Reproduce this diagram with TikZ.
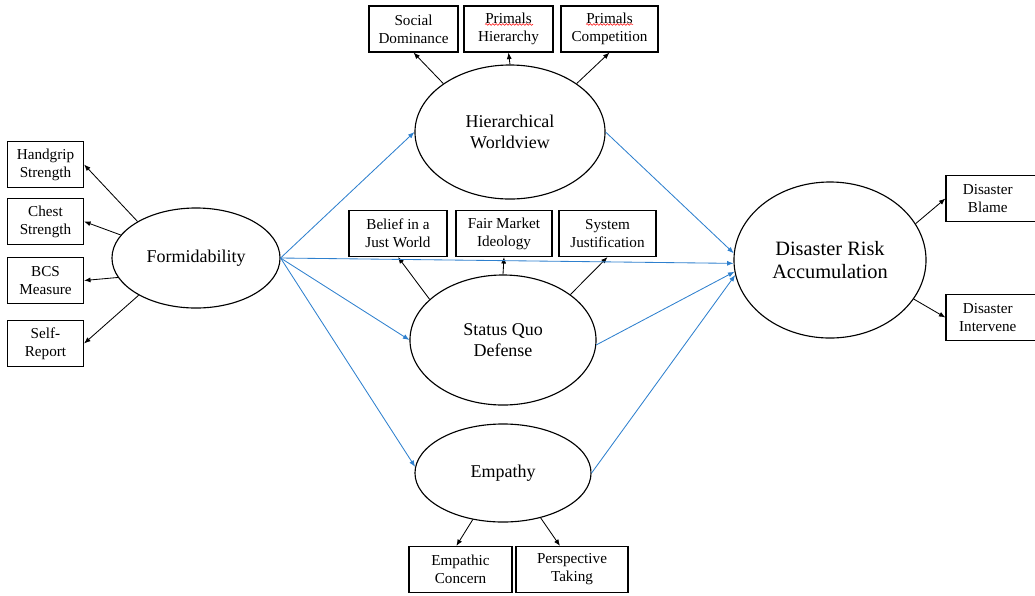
\documentclass[tikz,border=0pt]{standalone}
\usepackage{fontspec}
\setmainfont{Liberation Serif}
\usetikzlibrary{arrows.meta}
\usetikzlibrary{shapes.geometric}
\usetikzlibrary{calc}
\usetikzlibrary{decorations.pathmorphing}
\definecolor{pathBlue}{RGB}{46,128,206}
\tikzset{%
	>={Latex[width=3.6pt,length=4.6pt]},
	% Specifications for style of nodes:
	base/.style = {draw=black, line width=0.8pt, text centered, align=center, inner sep=0pt},
	indicator/.style = {base, rectangle, minimum height=1.15cm,
		font=\fontsize{10.8}{12.8}\selectfont},
	latent/.style = {base, ellipse, font=\fontsize{12.8}{15}\selectfont},
	% Specifications for style of paths:
	loading/.style = {->, line width=0.6pt, black},
	structural/.style = {->, line width=0.6pt, pathBlue},
	spellMark/.style = {red, line width=0.4pt, decorate,
		decoration={snake, amplitude=0.6pt, segment length=2.4pt}},
}

\begin{document}
\begin{tikzpicture}[x=0.025cm, y=-0.025cm]
		\useasboundingbox (0,0) rectangle (1035,595);
		% Specification of nodes (position, etc.)
		\node (formid) [latent, minimum width=4.2cm, minimum height=2.5cm] at (196,258) {Formidability};
		\node (hier)   [latent, minimum width=4.75cm, minimum height=3.35cm] at (510,132) {Hierarchical\\Worldview};
		\node (squo)   [latent, minimum width=4.65cm, minimum height=3.25cm] at (503,340) {Status Quo\\Defense};
		\node (emp)    [latent, minimum width=4.4cm, minimum height=2.45cm] at (503,473) {Empathy};
		\node (dra)    [latent, font=\fontsize{14.5}{17}\selectfont,
			minimum width=4.8cm, minimum height=3.9cm] at (830,260) {Disaster Risk\\Accumulation};
		% indicators
		\node (hand)   [indicator, minimum width=1.9cm] at (45.5,164.5) {Handgrip\\Strength};
		\node (chest)  [indicator, minimum width=1.9cm] at (45.5,221.5) {Chest\\Strength};
		\node (bcs)    [indicator, minimum width=1.9cm] at (45.5,280.5) {BCS\\Measure};
		\node (self)   [indicator, minimum width=1.9cm] at (45.5,343.5) {Self-\\Report};
		\node (soc)    [indicator, minimum width=2.225cm] at (413.5,29) {Social\\Dominance};
		\node (ph)     [indicator, minimum width=2.225cm] at (508.5,29) {Primals\\Hierarchy};
		\node (pc)     [indicator, minimum width=2.425cm] at (609.5,29) {Primals\\Competition};
		\node (bjw)    [indicator, minimum width=2.45cm] at (398,233.5) {Belief in a\\Just World};
		\node (fmi)    [indicator, minimum width=2.4cm] at (504,233.5) {Fair Market\\Ideology};
		\node (sj)     [indicator, minimum width=2.425cm] at (607.5,233.5) {System\\Justification};
		\node (ec)     [indicator, minimum width=2.575cm] at (460.5,569.5) {Empathic\\Concern};
		\node (pt)     [indicator, minimum width=2.8cm] at (572,569.5) {Perspective\\Taking};
		\node (blame)  [indicator, minimum width=2.3cm] at (992,198.5) {\hspace*{-6pt}Disaster\\\hspace*{-6pt}Blame};
		\node (interv) [indicator, minimum width=2.3cm] at (992,317.5) {\hspace*{-6pt}Disaster\\\hspace*{-6pt}Intervene};
		% spell-check marks
		\draw[spellMark] ($(ph.north)+(-23.5,19)$) -- ($(ph.north)+(24.5,19)$);
		\draw[spellMark] ($(pc.north)+(-23.5,19)$) -- ($(pc.north)+(23.5,19)$);
		% measurement paths
		\draw[loading] (formid.148) -- (hand.east);
		\draw[loading] (formid.163) -- (chest.east);
		\draw[loading] (formid.194) -- (bcs.east);
		\draw[loading] (formid.213) -- (self.east);
		\draw[loading] (hier.144) -- (soc.south);
		\draw[loading] (hier.north) -- (ph.south);
		\draw[loading] (hier.36) -- (pc.south);
		\draw[loading] (squo.151) -- (bjw.south);
		\draw[loading] (squo.north) -- (fmi.south);
		\draw[loading] (squo.34) -- (sj.south);
		\draw[loading] (emp.237) -- (ec.100);
		\draw[loading] (emp.310) -- (pt.117);
		\draw[loading] (dra.23) -- (blame.west);
		\draw[loading] (dra.335) -- (interv.west);
		% structural paths
		\draw[structural] (formid.east) -- (hier.west);
		\draw[structural] (formid.east) -- (squo.west);
		\draw[structural] (formid.east) -- (emp.176);
		\draw[structural] (formid.east) -- (dra.182);
		\draw[structural] (hier.east) -- (dra.176);
		\draw[structural] (squo.357) -- (dra.187);
		\draw[structural] (emp.east) -- (dra.189);
	\end{tikzpicture}
\end{document}
